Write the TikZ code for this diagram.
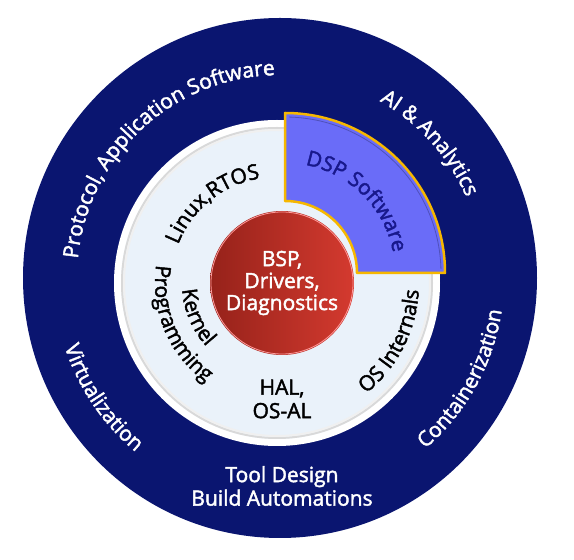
\documentclass[tikz,border=0pt]{standalone}
\usepackage{fontspec}
\setmainfont{Open Sans}[UprightFeatures={FakeBold=2}]
\usetikzlibrary{decorations.text}
\definecolor{navyband}{RGB}{10,21,112}
\definecolor{ringfill}{RGB}{234,242,250}
\definecolor{dspfill}{RGB}{106,108,248}
\definecolor{dspedge}{RGB}{246,183,0}
\definecolor{dsptext}{RGB}{24,24,140}
\definecolor{coreleft}{RGB}{150,34,26}
\definecolor{coreright}{RGB}{212,58,47}
\tikzset{%
  band label/.style={
    decorate,
    decoration={text along path, text align=center, text color=white, text={#1}}
  },
  ring label/.style={
    decorate,
    decoration={text along path, text align=center, text color=black, text={#1}}
  },
  dsp label/.style={
    decorate,
    decoration={text along path, text align=center, text color=dsptext, text={#1}}
  },
}

\begin{document}
\begin{tikzpicture}[x=1pt,y=1pt]
  \fontsize{21}{23.5}\selectfont
  \fill[white] (0,0) rectangle (574,560);
  \useasboundingbox (0,0) rectangle (574,560);

  \coordinate (oc) at (280,282);
  \coordinate (rc) at (277,277);
  \coordinate (cc) at (282,277);
  \coordinate (dc) at (285,287);

  % rings
  \fill[navyband] (oc) ellipse[x radius=257, y radius=260];
  \fill[white] (rc) circle[radius=163];
  \fill[ringfill] (rc) circle[radius=156];
  \draw[gray!30, line width=2] (rc) circle[radius=155];
  \draw[gray!12, line width=2] (rc) circle[radius=153];
  \shade[left color=coreleft, right color=coreright] (cc) circle[radius=72];
  \draw[red!40!white, line width=0.8] (cc) circle[radius=71];

  % dsp slice
  \filldraw[fill=dspfill, draw=dspedge, line width=2.5, line join=round]
    ([shift={(90:160)}]dc) arc[start angle=90, end angle=0, radius=160]
    -- ([shift={(0:72)}]dc) arc[start angle=0, end angle=90, radius=72] -- cycle;
  \draw[dspfill!75!black, line width=0.8]
    ([shift={(88.5:156)}]dc) arc[start angle=88.5, end angle=1.5, radius=156];

  % outer band
  \path[band label={Protocol, Application Software}]
    ([shift={(200:203)}]oc) arc[start angle=200, end angle=66, radius=203];
  \path[band label={AI {\&} Analytics}]
    ([shift={(84:203)}]oc) arc[start angle=84, end angle=0, radius=203];
  \path[band label=Containerization]
    ([shift={(-72:224)}]oc) arc[start angle=-72, end angle=14, radius=224];
  \path[band label=Virtualization]
    ([shift={(169:226)}]oc) arc[start angle=169, end angle=259, radius=226];
  \node[white, align=center] (tool) at (282,74) {Tool Design\\Build Automations};

  % inner ring
  \path[ring label={Linux,RTOS}]
    ([shift={(172:106)}]rc) arc[start angle=172, end angle=86, radius=106];
  \path[ring label=Kernel]
    ([shift={(160:95)}]rc) arc[start angle=160, end angle=246, radius=95];
  \path[ring label=Programming]
    ([shift={(150:122)}]rc) arc[start angle=150, end angle=256, radius=122];
  \path[ring label={OS Internals}]
    ([shift={(-75:142)}]rc) arc[start angle=-75, end angle=21, radius=142];
  \node[align=center] (hal) at (282,161) {HAL,\\OS-AL};
  \path[dsp label={DSP Software}]
    ([shift={(90:110)}]dc) arc[start angle=90, end angle=0, radius=110];

  \node[white, align=center, font=\fontsize{21}{22}\selectfont] (core) at (cc)
    {BSP,\\Drivers,\\Diagnostics};
\end{tikzpicture}
\end{document}
